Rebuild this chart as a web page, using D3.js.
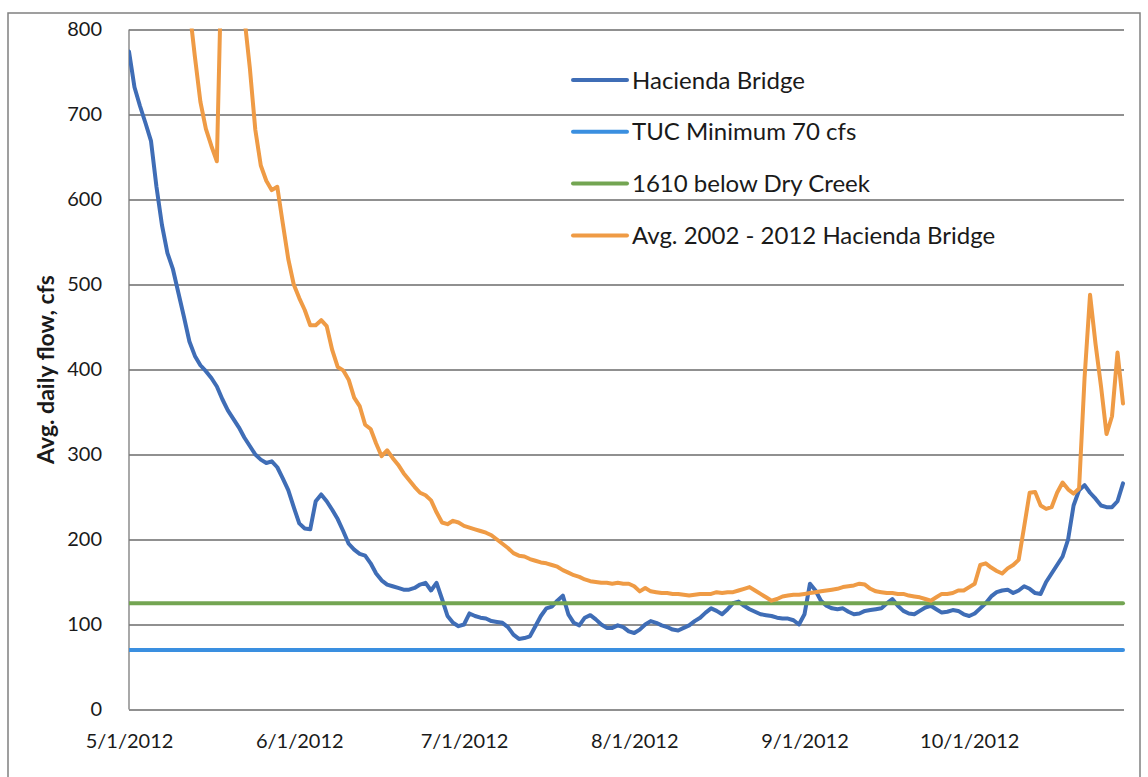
<!DOCTYPE html>
<html>
<head>
<meta charset="utf-8">
<script src="https://cdn.jsdelivr.net/npm/d3@7"></script>
<style>
  body { margin: 0; background: #fff; }
  text { font-family: Lato, "Open Sans", sans-serif; fill: #1a1a1a; }
</style>
</head>
<body>
<div id="chart"></div>
<script>

// daily series start on 5/1/2012, one value per day
var startDate = new Date(2012, 4, 1)

var hacienda = [
  774, 732, 710, 690, 669, 615, 570, 537, 518, 490,
  462, 433, 416, 405, 398, 390, 380, 365, 352, 342,
  332, 320, 310, 300, 294, 290, 292, 285, 272, 258,
  238, 219, 213, 212, 245, 253, 245, 235, 224, 210,
  195, 188, 183, 181, 172, 160, 152, 147, 145, 143,
  141, 141, 143, 147, 149, 140, 149, 130, 110, 102,
  98, 100, 113, 110, 108, 107, 104, 103, 102, 97,
  88, 83, 84, 86, 98, 110, 119, 121, 128, 134,
  112, 102, 99, 108, 111, 106, 100, 96, 96, 99,
  97, 92, 90, 94, 100, 104, 102, 99, 97, 94,
  93, 96, 99, 104, 108, 114, 119, 116, 112, 118,
  125, 127, 122, 118, 115, 112, 111, 110, 108, 107,
  107, 105, 100, 112, 148, 140, 128, 122, 119, 118,
  119, 115, 112, 113, 116, 117, 118, 119, 125, 130,
  122, 116, 113, 112, 116, 120, 122, 118, 114, 115,
  117, 116, 112, 110, 113, 119, 125, 133, 138, 140,
  141, 137, 140, 145, 142, 137, 136, 150, 160, 170,
  180, 200, 240, 258, 264, 255, 248, 240, 238, 238,
  245, 266
]

var avgHacienda = [
  1180, 1140, 1100, 1060, 1020, 985, 950, 920, 890, 865,
  845, 825, 768, 715, 683, 663, 645, 920, 980, 950,
  900, 815, 755, 682, 640, 622, 611, 615, 572, 530,
  500, 484, 470, 452, 452, 458, 451, 423, 403, 399,
  388, 367, 357, 335, 330, 313, 298, 305, 296, 288,
  278, 270, 262, 255, 252, 246, 232, 220, 218, 222,
  220, 216, 214, 212, 210, 208, 205, 200, 195, 190,
  184, 181, 180, 177, 175, 173, 172, 170, 168, 164,
  161, 158, 156, 153, 151, 150, 149, 149, 148, 149,
  148, 148, 145, 139, 143, 139, 138, 137, 137, 136,
  136, 135, 134, 135, 136, 136, 136, 138, 137, 138,
  138, 140, 142, 144, 140, 136, 132, 128, 130, 133,
  134, 135, 135, 136, 137, 138, 139, 140, 141, 142,
  144, 145, 146, 148, 147, 142, 139, 138, 137, 137,
  136, 136, 134, 133, 132, 130, 128, 132, 136, 136,
  137, 140, 140, 144, 148, 170, 172, 167, 163, 160,
  166, 170, 176, 215, 255, 256, 240, 236, 238, 255,
  267, 259, 254, 260, 390, 488, 430, 380, 324, 345,
  420, 360
]

var tucMinimum = 70
var dryCreek = 125

var seriesNames = ["Hacienda Bridge", "TUC Minimum 70 cfs", "1610 below Dry Creek", "Avg. 2002 - 2012 Hacienda Bridge"]
var seriesColors = ["#3f6db6", "#3a8fe0", "#73a552", "#ef9b45"]

var yTicks = [0, 100, 200, 300, 400, 500, 600, 700, 800]
var xTickDates = ["2012-05-01", "2012-06-01", "2012-07-01", "2012-08-01", "2012-09-01", "2012-10-01"]

var width = 1148, height = 777
var plot = { left: 129, top: 29.5, right: 1124, bottom: 709.5 }

var svg = d3.select("#chart")
  .append("svg")
  .attr("width", width)
  .attr("height", height)

// outer chart border
svg.append("rect")
  .attr("x", 8)
  .attr("y", 13)
  .attr("width", 1132)
  .attr("height", 780)
  .attr("fill", "none")
  .attr("stroke", "#808080")
  .attr("stroke-width", 1.5)

var dates = hacienda.map(function(v, i) { return d3.timeDay.offset(startDate, i) })

var x = d3.scaleTime()
  .domain([dates[0], dates[dates.length - 1]])
  .range([plot.left, 1123])

var y = d3.scaleLinear()
  .domain([0, 800])
  .range([plot.bottom, plot.top])

// gridlines + y labels
var yAxis = svg.append("g")
  .attr("transform", "translate(" + plot.left + ",0)")
  .call(d3.axisLeft(y)
    .tickValues(yTicks)
    .tickSize(-(plot.right - plot.left))
    .tickPadding(27))

yAxis.select(".domain").remove()
yAxis.selectAll(".tick line")
  .attr("stroke", "#6b6b6b")
  .attr("stroke-width", 1.3)
yAxis.selectAll(".tick text")
  .style("font-size", "20px")
  .attr("fill", "#1a1a1a")

// left axis line
svg.append("line")
  .attr("x1", plot.left).attr("x2", plot.left)
  .attr("y1", plot.top).attr("y2", plot.bottom)
  .attr("stroke", "#7a7a7a")
  .attr("stroke-width", 1.3)

var parseDay = d3.timeParse("%Y-%m-%d")

var xAxis = svg.append("g")
  .attr("transform", "translate(0," + plot.bottom + ")")
  .call(d3.axisBottom(x)
    .tickValues(xTickDates.map(parseDay))
    .tickFormat(d3.timeFormat("%-m/%-d/%Y"))
    .tickSize(0)
    .tickPadding(24))

xAxis.select(".domain").remove()
xAxis.selectAll(".tick text")
  .style("font-size", "20px")
  .attr("fill", "#1a1a1a")

// axis title
svg.append("text")
  .attr("transform", "translate(54," + ((plot.top + plot.bottom) / 2) + ") rotate(-90)")
  .attr("text-anchor", "middle")
  .style("font-size", "23px")
  .style("font-weight", "bold")
  .text("Avg. daily flow, cfs")

svg.append("clipPath")
  .attr("id", "plot-clip")
  .append("rect")
  .attr("x", plot.left)
  .attr("y", plot.top - 1)
  .attr("width", plot.right - plot.left + 2)
  .attr("height", plot.bottom - plot.top + 2)

var line = d3.line()
  .x(function(d) { return x(d.date) })
  .y(function(d) { return y(d.value) })

var series = [
  hacienda.map(function(v, i) { return { date: dates[i], value: v } }),
  dates.map(function(d) { return { date: d, value: tucMinimum } }),
  dates.map(function(d) { return { date: d, value: dryCreek } }),
  avgHacienda.map(function(v, i) { return { date: dates[i], value: v } })
]

svg.append("g")
  .attr("clip-path", "url(#plot-clip)")
  .selectAll(".series")
  .data(series)
  .enter().append("path")
  .attr("class", "series")
  .attr("d", line)
  .attr("fill", "none")
  .attr("stroke", function(d, i) { return seriesColors[i] })
  .attr("stroke-width", 4)
  .attr("stroke-linejoin", "round")
  .attr("stroke-linecap", "round")

// legend
var legend = svg.selectAll(".legend")
  .data(seriesNames)
  .enter().append("g")
  .attr("class", "legend")
  .attr("transform", function(d, i) { return "translate(573," + (80 + i * 51.8) + ")" })

legend.append("line")
  .attr("x1", 0).attr("x2", 54)
  .attr("stroke", function(d, i) { return seriesColors[i] })
  .attr("stroke-width", 4)
  .attr("stroke-linecap", "round")

legend.append("text")
  .attr("x", 59)
  .attr("dy", "0.36em")
  .style("font-size", "24px")
  .text(function(d) { return d })

</script>
</body>
</html>
